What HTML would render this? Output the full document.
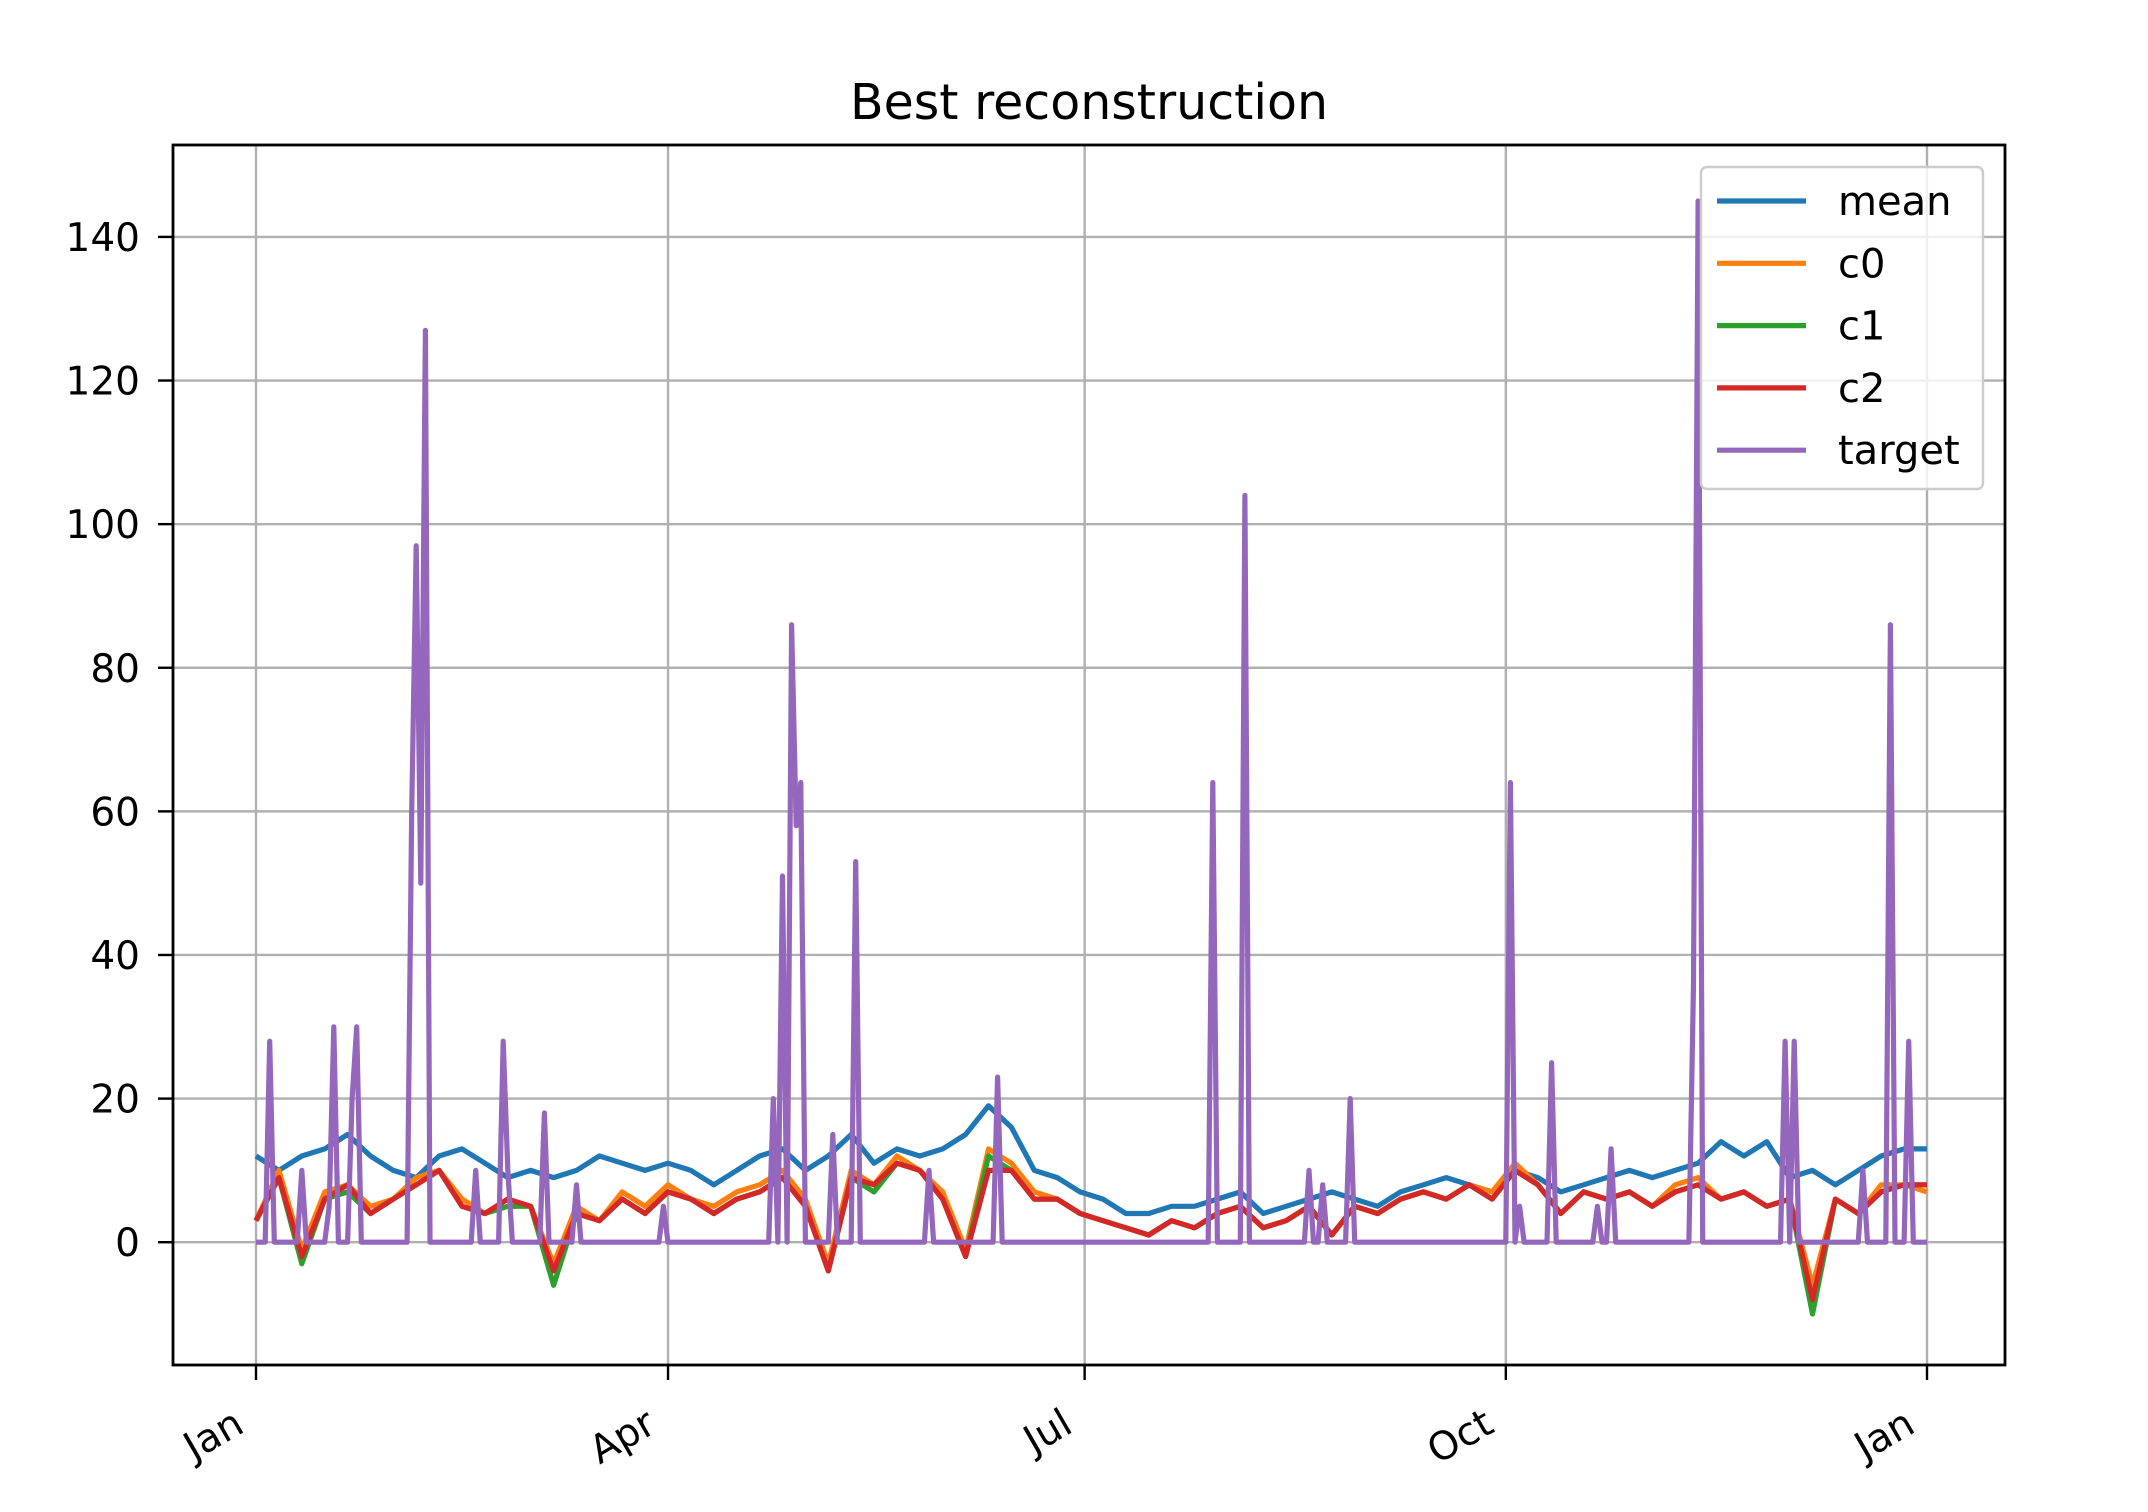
<!DOCTYPE html>
<html><head><meta charset="utf-8"><style>
html,body{margin:0;padding:0;background:#fff;}
svg{display:block;font-family:"DejaVu Sans","Liberation Sans",sans-serif;}
</style></head><body>
<svg id="chart" width="2148" height="1512" viewBox="0 0 2148 1512">
<rect width="2148" height="1512" fill="#fff"/>
<text x="1089" y="119" font-size="49" text-anchor="middle" fill="#000">Best reconstruction</text>
<g id="grid"></g>
<g id="series"></g>
<rect x="173" y="145" width="1832" height="1220" fill="none" stroke="#000" stroke-width="2.8"/>
<g id="axes"></g>
<g id="legend"></g>
</svg>
<script>
const yTicks=[0,20,40,60,80,100,120,140];
const xTickDays=[0,90,181,273,365];
const xTickLabels=["Jan","Apr","Jul","Oct","Jan"];
const sampleDays=[0,5,10,15,20,25,30,35,40,45,50,55,60,65,70,75,80,85,90,95,100,105,110,115,120,125,130,135,140,145,150,155,160,165,170,175,180,185,190,195,200,205,210,215,220,225,230,235,240,245,250,255,260,265,270,275,280,285,290,295,300,305,310,315,320,325,330,335,340,345,350,355,360,365];
const meanVals=[12,10,12,13,15,12,10,9,12,13,11,9,10,9,10,12,11,10,11,10,8,10,12,13,10,12,15,11,13,12,13,15,19,16,10,9,7,6,4,4,5,5,6,7,4,5,6,7,6,5,7,8,9,8,7,10,9,7,8,9,10,9,10,11,14,12,14,9,10,8,10,12,13,13];
const c0Vals=[3,10,-1,7,8,5,6,9,10,6,4,6,5,-3,5,3,7,5,8,6,5,7,8,10,6,-3,10,8,12,10,7,-1,13,11,7,6,4,3,2,1,3,2,4,5,2,3,5,1,5,4,6,7,6,8,7,11,8,4,7,6,7,5,8,9,6,7,5,6,-6,6,4,8,8,7];
const c1Vals=[3,9,-3,6,7,4,6,8,10,5,4,5,5,-6,4,3,6,4,7,6,4,6,7,9,5,-4,9,7,11,10,6,-2,12,10,6,6,4,3,2,1,3,2,4,5,2,3,5,1,5,4,6,7,6,8,6,10,8,4,7,6,7,5,7,8,6,7,5,6,-10,6,4,7,8,8];
const c2Vals=[3,9,-2,6,8,4,6,8,10,5,4,6,5,-4,4,3,6,4,7,6,4,6,7,9,5,-4,9,8,11,10,6,-2,10,10,6,6,4,3,2,1,3,2,4,5,2,3,5,1,5,4,6,7,6,8,6,10,8,4,7,6,7,5,7,8,6,7,5,6,-8,6,4,7,8,8];
const targetDays=[3,10,16,17,21,22,34,35,36,37,48,54,55,63,70,89,113,115,117,118,119,126,131,147,162,209,216,230,233,239,274,276,283,293,296,314,315,334,336,351,357,361];
const targetVals=[28,10,5,30,20,30,60,97,50,127,10,28,10,18,8,5,20,51,86,58,64,15,53,10,23,64,104,10,8,20,64,5,25,5,13,36,145,28,28,10,86,28];

const L=173,R=2005,T=145,B=1365;
const x0=256,x1=1927,ymin=-17.1,ymax=152.8;
const xs=d=>x0+(x1-x0)*d/365;
const ys=v=>B-(v-ymin)/(ymax-ymin)*(B-T);
const NS="http://www.w3.org/2000/svg";
function mk(tag,attrs,parent){const e=document.createElementNS(NS,tag);for(const k in attrs)e.setAttribute(k,attrs[k]);parent.appendChild(e);return e;}
const grid=document.getElementById('grid'),axes=document.getElementById('axes'),ser=document.getElementById('series'),leg=document.getElementById('legend');
yTicks.forEach(v=>{
 const y=ys(v);
 const g=mk('line',{x1:L,x2:R,y1:y,y2:y,stroke:'#b0b0b0','stroke-width':2.4},grid);
 
 
 const t=mk('line',{x1:L-15,x2:L,y1:y,y2:y,stroke:'#000','stroke-width':2.4},axes);
 
 
 const tx=mk('text',{x:L-33,y:y+14,'font-size':39,'text-anchor':'end',fill:'#000'},axes);
 tx.textContent=v;
 
 
});
xTickDays.forEach((d,i)=>{
 const x=xs(d);
 const g=mk('line',{x1:x,x2:x,y1:T,y2:B,stroke:'#b0b0b0','stroke-width':2.4},grid);
 
 
 const t=mk('line',{x1:x,x2:x,y1:B,y2:B+15,stroke:'#000','stroke-width':2.4},axes);
 
 
 const tx=mk('text',{x:x-10,y:B+66,'font-size':39,'text-anchor':'end',fill:'#000',transform:`rotate(-30 ${x-10} ${B+66})`},axes);
 tx.textContent=xTickLabels[i];
 
 
});
function path(days,vals,color,name){
 const d=days.map((dd,i)=>(i?'L':'M')+xs(dd).toFixed(1)+','+ys(vals[i]).toFixed(1)).join('');
 const p=mk('path',{d:d,fill:'none',stroke:color,'stroke-width':5.2,'stroke-linejoin':'round'},ser);
 
 
}
path(sampleDays,meanVals,'#1f77b4','mean-line');
path(sampleDays,c0Vals,'#ff7f0e','c0-line');
path(sampleDays,c1Vals,'#2ca02c','c1-line');
path(sampleDays,c2Vals,'#d62728','c2-line');
const tDays=[],tVals=[];
for(let d=0;d<=365;d++){const k=targetDays.indexOf(d);tDays.push(d);tVals.push(k>=0?targetVals[k]:0);}
path(tDays,tVals,'#9467bd','target-line');
const lb=mk('rect',{x:1701,y:167,width:282,height:322,rx:6,fill:'#fff','fill-opacity':0.8,stroke:'#ccc','stroke-width':2.4},leg);


const names=['mean','c0','c1','c2','target'],cols=['#1f77b4','#ff7f0e','#2ca02c','#d62728','#9467bd'];
names.forEach((n,i)=>{
 const y=201+i*62.3;
 const g=mk('g',{},leg);
 
 
 mk('line',{x1:1717,x2:1806,y1:y,y2:y,stroke:cols[i],'stroke-width':5.2},g);
 const t=mk('text',{x:1838,y:y+14,'font-size':40,fill:'#000'},g);
 t.textContent=n;
});
</script>
</body></html>
